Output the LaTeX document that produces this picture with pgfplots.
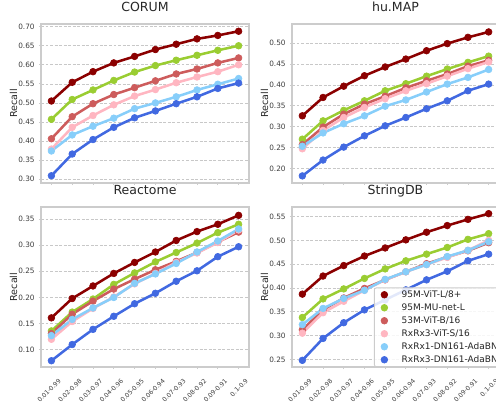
\documentclass[border=0pt]{standalone}
\usepackage{fontspec}
\setmainfont{DejaVu Sans}
\usepackage{pgfplots}
\usepackage{pgfplotstable}
\pgfplotsset{compat=1.18}

\definecolor{c1}{RGB}{139,0,0}
\definecolor{c2}{RGB}{154,205,50}
\definecolor{c3}{RGB}{205,92,92}
\definecolor{c4}{RGB}{255,182,193}
\definecolor{c5}{RGB}{135,206,250}
\definecolor{c6}{RGB}{65,105,225}
\definecolor{framec}{RGB}{204,204,204}
\definecolor{gridc}{RGB}{200,200,200}
\definecolor{textc}{RGB}{38,38,38}
\definecolor{tickc}{RGB}{60,60,60}

\pgfplotstableread{
x a b c d e f
0 0.505 0.457 0.406 0.379 0.374 0.309
1 0.554 0.509 0.464 0.436 0.416 0.366
2 0.582 0.534 0.498 0.467 0.439 0.404
3 0.605 0.559 0.522 0.495 0.460 0.436
4 0.622 0.581 0.540 0.518 0.485 0.461
5 0.640 0.598 0.558 0.535 0.500 0.479
6 0.654 0.612 0.576 0.553 0.516 0.498
7 0.668 0.625 0.589 0.568 0.534 0.516
8 0.677 0.638 0.605 0.582 0.549 0.538
9 0.688 0.650 0.618 0.600 0.564 0.552
}\corum

\pgfplotstableread{
x a b c d e f
0 0.326 0.270 0.257 0.247 0.253 0.182
1 0.370 0.314 0.299 0.291 0.285 0.220
2 0.397 0.339 0.330 0.322 0.307 0.251
3 0.422 0.362 0.354 0.346 0.326 0.278
4 0.443 0.386 0.373 0.367 0.349 0.302
5 0.462 0.403 0.393 0.386 0.364 0.322
6 0.482 0.421 0.410 0.403 0.383 0.343
7 0.499 0.438 0.426 0.421 0.402 0.362
8 0.514 0.454 0.445 0.439 0.418 0.386
9 0.527 0.469 0.459 0.455 0.437 0.402
}\humap

\pgfplotstableread{
x a b c d e f
0 0.161 0.136 0.131 0.120 0.127 0.079
1 0.198 0.172 0.168 0.154 0.158 0.110
2 0.222 0.197 0.193 0.179 0.180 0.139
3 0.246 0.225 0.216 0.201 0.200 0.164
4 0.267 0.247 0.235 0.226 0.227 0.188
5 0.287 0.268 0.253 0.246 0.245 0.208
6 0.309 0.286 0.269 0.267 0.265 0.231
7 0.326 0.304 0.286 0.285 0.287 0.251
8 0.340 0.324 0.306 0.305 0.308 0.278
9 0.357 0.340 0.325 0.329 0.331 0.297
}\reactome

\pgfplotstableread{
x a b c d e f
0 0.387 0.338 0.312 0.305 0.323 0.248
1 0.425 0.377 0.354 0.348 0.357 0.294
2 0.447 0.398 0.379 0.372 0.378 0.327
3 0.467 0.420 0.399 0.395 0.395 0.354
4 0.484 0.440 0.417 0.417 0.418 0.375
5 0.501 0.457 0.434 0.434 0.434 0.396
6 0.517 0.471 0.451 0.449 0.449 0.417
7 0.531 0.485 0.465 0.464 0.466 0.435
8 0.544 0.502 0.478 0.479 0.479 0.457
9 0.556 0.514 0.495 0.500 0.497 0.471
}\stringdb

\pgfplotsset{
  panel/.style={
    scale only axis, width=156pt, height=119.25pt,
    anchor=south west,
    xmin=-0.5, xmax=9.5,
    xtick={0,...,9},
    axis line style={framec, line width=0.8pt},
    tick style={framec, line width=0.6pt},
    major tick length=1.6pt, tick align=outside, tick pos=left,
    ymajorgrids,
    major grid style={gridc, dash pattern=on 2.2pt off 1.2pt, line width=0.5pt},
    yticklabel style={font=\fontsize{5.5}{6.5}\selectfont, text=tickc, inner sep=0pt, xshift=-3pt},
    scaled y ticks=false,
    title style={font=\fontsize{9.4}{11}\selectfont, text=textc, at={(0.5,1)},
      anchor=base, yshift=3.5pt, inner sep=0pt},
    ylabel={Recall},
    ylabel style={font=\fontsize{7.2}{8}\selectfont, text=textc,
      at={(axis description cs:-0.115,0.5)}, anchor=base, inner sep=0pt},
    every axis plot/.append style={line width=1.9pt, mark=*, mark size=2.5pt,
      mark options={line width=0.5pt, solid}},
  },
  toprow/.style={xticklabels={}},
  bottomrow/.style={
    xticklabels={0.01-0.99,0.02-0.98,0.03-0.97,0.04-0.96,0.05-0.95,0.06-0.94,0.07-0.93,0.08-0.92,0.09-0.91,0.1-0.9},
    xticklabel style={font=\fontsize{4.7}{5.5}\selectfont, text=tickc,
      xshift=5pt, yshift=-6.5pt, rotate=45, anchor=north east, inner sep=0pt},
  },
}

\newcommand{\sixplots}[1]{%
  \addplot[c1] table[x=x,y=a] {#1};
  \addplot[c2] table[x=x,y=b] {#1};
  \addplot[c3] table[x=x,y=c] {#1};
  \addplot[c4] table[x=x,y=d] {#1};
  \addplot[c5] table[x=x,y=e] {#1};
  \addplot[c6] table[x=x,y=f] {#1};
}

\begin{document}
\begin{tikzpicture}
\begin{axis}[panel, toprow, at={(30.75pt,165.75pt)}, title={CORUM},
  ymin=0.290, ymax=0.707, ytick={0.30,0.35,0.40,0.45,0.50,0.55,0.60,0.65,0.70},
  yticklabels={0.30,0.35,0.40,0.45,0.50,0.55,0.60,0.65,0.70}]
\sixplots{\corum}
\end{axis}

\begin{axis}[panel, toprow, at={(219pt,165.75pt)}, width=155.25pt, title={hu.MAP},
  ymin=0.165, ymax=0.546, ytick={0.20,0.25,0.30,0.35,0.40,0.45,0.50},
  yticklabels={0.20,0.25,0.30,0.35,0.40,0.45,0.50}]
\sixplots{\humap}
\end{axis}

\begin{axis}[panel, bottomrow, at={(30.75pt,27.75pt)}, height=120pt, title={Reactome},
  ymin=0.067, ymax=0.373, ytick={0.10,0.15,0.20,0.25,0.30,0.35},
  yticklabels={0.10,0.15,0.20,0.25,0.30,0.35}]
\sixplots{\reactome}
\end{axis}

\begin{axis}[panel, bottomrow, at={(219pt,27.75pt)}, width=155.25pt, height=120pt, title={StringDB},
  ymin=0.234, ymax=0.570, ytick={0.25,0.30,0.35,0.40,0.45,0.50,0.55},
  yticklabels={0.25,0.30,0.35,0.40,0.45,0.50,0.55},
  legend cell align=left,
  legend image code/.code={\draw[#1, only marks, opacity=1] plot coordinates {(0pt,0pt)};},
  legend style={at={(0.396,0)}, anchor=south west, draw=framec, line width=0.6pt,
    fill=white, fill opacity=0.85, text opacity=1, rounded corners=1.5pt,
    font=\fontsize{6.75}{7.5}\selectfont, text=textc,
    inner xsep=5pt, inner ysep=1.9pt, row sep=3.25pt, column sep=10.5pt,
    nodes={inner sep=0pt, text height=5pt, text depth=1.5pt}},
]
\sixplots{\stringdb}
\legend{95M-ViT-L/8+,95M-MU-net-L,53M-ViT-B/16,RxRx3-ViT-S/16,RxRx1-DN161-AdaBN,RxRx3-DN161-AdaBN}
\end{axis}
\pgfresetboundingbox
\useasboundingbox (0pt,0pt) rectangle (372pt,303pt);
\end{tikzpicture}
\end{document}
